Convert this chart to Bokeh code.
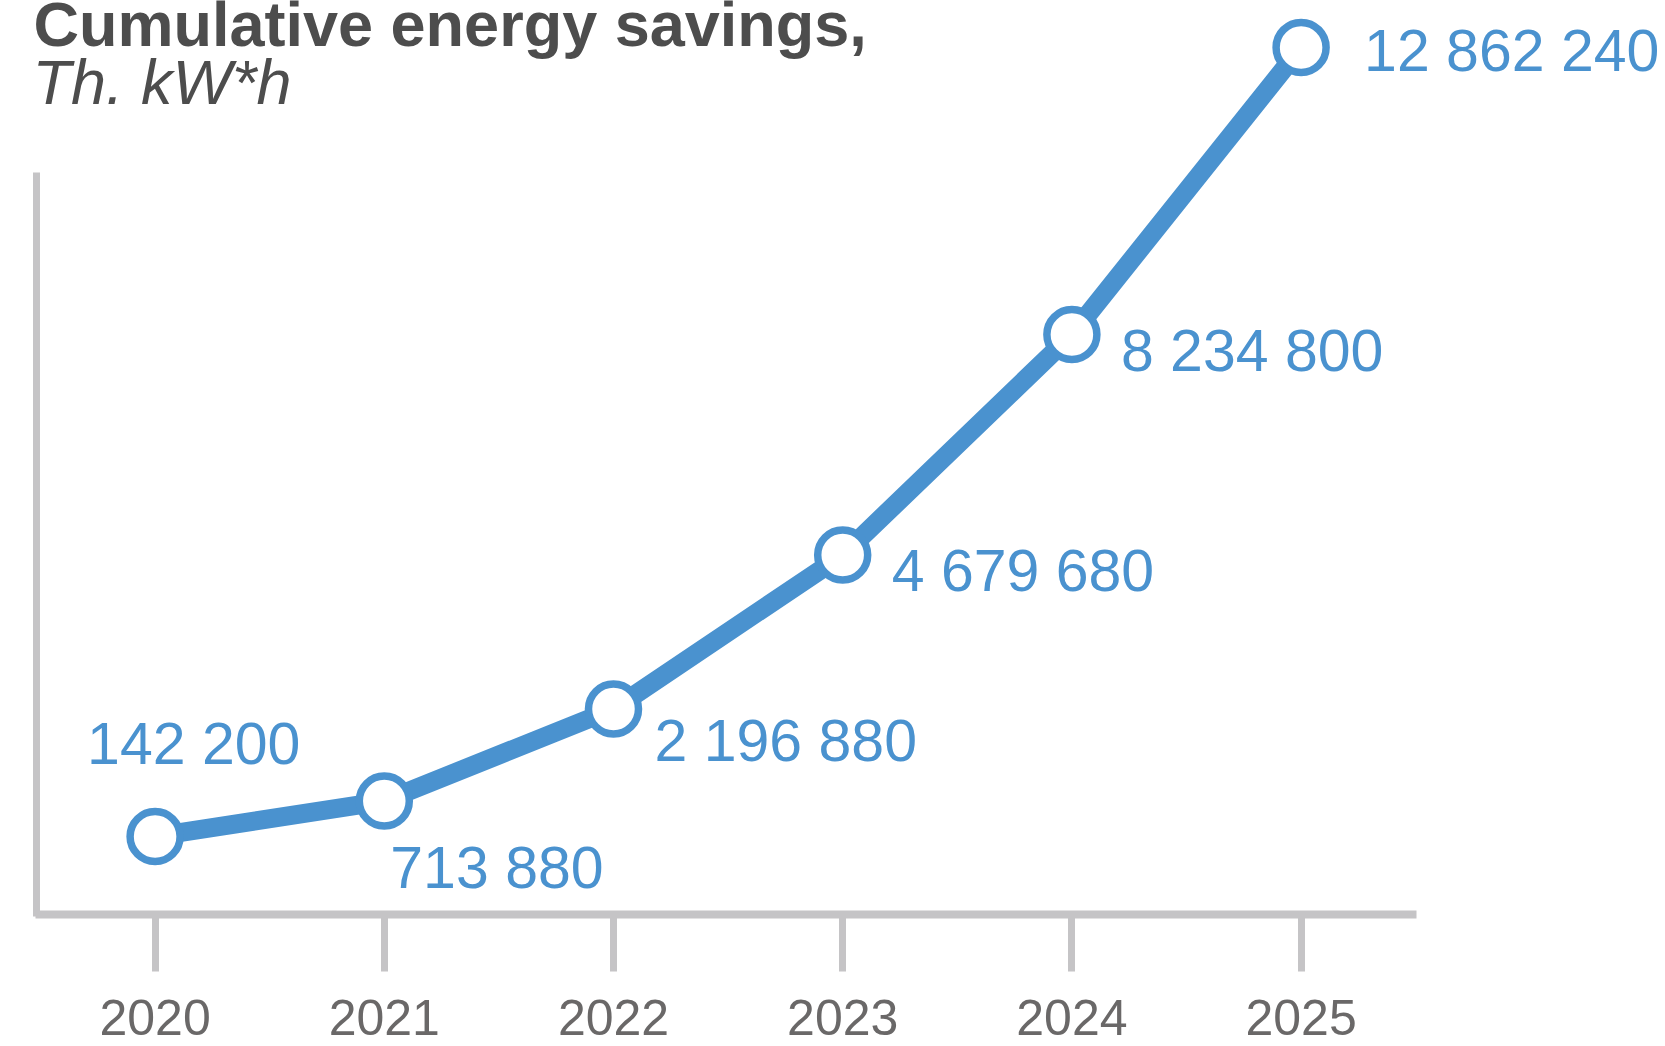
from bokeh.plotting import figure
from bokeh.models import ColumnDataSource, Range1d, FixedTicker, Label
from bokeh.core.properties import value
from bokeh.embed import file_html
from bokeh.resources import INLINE

# ---- data ----
years = [2020, 2021, 2022, 2023, 2024, 2025]
year_labels = ["2020", "2021", "2022", "2023", "2024", "2025"]
savings = [142200, 713880, 2196880, 4679680, 8234800, 12862240]
title_text = "Cumulative energy savings,"
subtitle_text = "Th. kW*h"

# label placement (pixels, relative to each point)
label_dx = [-68, 6, 41, 49, 49, 63]
label_dy = [-92, 67, 32, 16, 17, 4]

BLUE = "#4A92CF"
AXIS = "#C5C4C6"
W, H = 1665, 1046

labels = [f"{v:,}".replace(",", " ") for v in savings]
src = ColumnDataSource(dict(x=years, y=savings, txt=labels, dx=label_dx, dy=label_dy))

p = figure(width=W, height=H, output_backend="svg", toolbar_location=None,
           x_range=Range1d(2019.3255, 2026.5899),
           y_range=Range1d(-3.2436e6, 13.619e6),
           min_border=0, min_border_left=0, min_border_right=0,
           min_border_top=0, min_border_bottom=0)
p.outline_line_color = None
p.background_fill_color = "white"
p.border_fill_color = "white"
p.xgrid.visible = False
p.ygrid.visible = False

# x axis
xa = p.xaxis[0]
xa.fixed_location = -1.1156e6
xa.bounds = (2019.478, 2025.5035)
xa.ticker = FixedTicker(ticks=years)
xa.major_label_overrides = {y: l for y, l in zip(years, year_labels)}
xa.axis_line_color = AXIS
xa.axis_line_width = 8
xa.axis_line_cap = "butt"
xa.major_tick_line_color = AXIS
xa.major_tick_line_width = 7
xa.major_tick_line_cap = "butt"
xa.major_tick_out = 57
xa.major_tick_in = 0
xa.minor_tick_line_color = None
xa.major_label_text_font = "Liberation Sans"
xa.major_label_text_font_size = "50px"
xa.major_label_text_color = "#6A6868"
xa.major_label_standoff = 29

# y axis
ya = p.yaxis[0]
ya.fixed_location = 2019.4804
ya.bounds = (-1.148e6, 10.846e6)
ya.ticker = FixedTicker(ticks=[])
ya.axis_line_color = AXIS
ya.axis_line_width = 7
ya.axis_line_cap = "butt"
ya.major_tick_line_color = None
ya.minor_tick_line_color = None
ya.major_label_text_font_size = "0px"

# series
p.line("x", "y", source=src, line_color=BLUE, line_width=19, line_join="round")
p.scatter("x", "y", source=src, marker="circle", size=50, fill_color="white",
          line_color=BLUE, line_width=7.5)
p.text("x", "y", text="txt", source=src, x_offset="dx", y_offset="dy",
       text_font=value("Liberation Sans"), text_font_size=value("59px"),
       text_color=BLUE, text_align="left", text_baseline="alphabetic")

# titles
p.add_layout(Label(x=33, y=H - 23, x_units="screen", y_units="screen", text=title_text,
                   text_font="Liberation Sans", text_font_style="bold",
                   text_font_size="63px", text_color="#4D4D4D",
                   text_baseline="alphabetic", text_align="left"))
p.add_layout(Label(x=32, y=H - 81, x_units="screen", y_units="screen", text=subtitle_text,
                   text_font="Liberation Sans", text_font_style="italic",
                   text_font_size="63px", text_color="#4D4D4D",
                   text_baseline="alphabetic", text_align="left"))

open("out.html", "w").write(file_html(p, INLINE))
